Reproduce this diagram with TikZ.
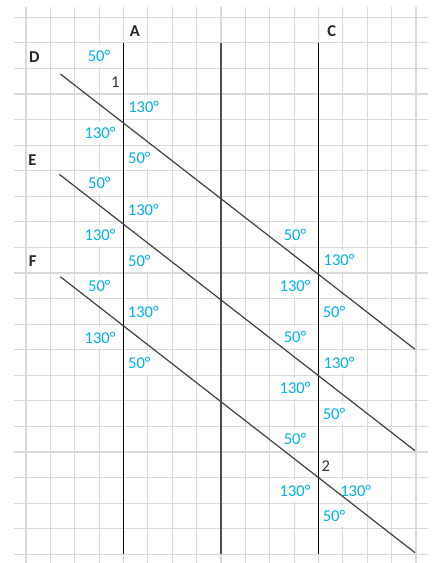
\documentclass[tikz,border=0pt]{standalone}
\usepackage{fontspec}
\setmainfont{Carlito}
\definecolor{gridgray}{RGB}{217,217,217}
\definecolor{angblue}{RGB}{0,176,240}
\begin{document}
\begin{tikzpicture}[
    x=0.75pt, y=-0.75pt,
    font=\fontsize{12.4}{14}\selectfont,
    cell/.style={draw=gridgray, line width=0.9pt},
    deg/.style={text=angblue, fill=white, inner xsep=0.5pt, inner ysep=0pt, minimum height=16pt},
    tag/.style={font=\fontsize{12.4}{14}\selectfont\bfseries, text=black!85},
    num/.style={text=black!80, fill=white, inner sep=0.5pt},
    parallel/.style={draw, line width=1pt, black},
    transversal/.style={draw, line width=0.9pt, black!75}
]
    \useasboundingbox (0,0) rectangle (433,563);

    % squared paper
    \foreach \i in {0,...,16}
        \draw [cell] ({26+24.375*\i},7) -- ({26+24.375*\i},563);
    \foreach \j in {0,...,21}
        \draw [cell] (14,{17.3+25.57*\j}) -- (428,{17.3+25.57*\j});

    % letters
    \node [tag] (lA) at (135,31) {A};
    \node [tag] (lC) at (331.7,31) {C};
    \node [tag] (lD) at (34.3,57.3) {D};
    \node [tag] (lE) at (32.3,160.3) {E};
    \node [tag] (lF) at (32.7,261) {F};
    \node [num] (n1) at (115.3,82.5) {1};
    \node [num] (n2) at (325.7,466) {2};

    % angles at A
    \node [deg] (ad1) at (99,56) {50°};
    \node [deg] (ad2) at (143.7,107.3) {130°};
    \node [deg] (ad3) at (100,132.8) {130°};
    \node [deg] (ad4) at (139.3,158.3) {50°};
    \node [deg] (ae1) at (99.3,183.3) {50°};
    \node [deg] (ae2) at (143.3,209.6) {130°};
    \node [deg] (ae3) at (100,235.2) {130°};
    \node [deg] (ae4) at (139.3,260.8) {50°};
    \node [deg] (af1) at (99.3,286.4) {50°};
    \node [deg] (af2) at (143.3,311.9) {130°};
    \node [deg] (af3) at (100,337.5) {130°};
    \node [deg] (af4) at (139.3,363.1) {50°};

    % angles at C
    \node [deg] (cd1) at (295,234.7) {50°};
    \node [deg] (cd2) at (339,260.3) {130°};
    \node [deg] (cd3) at (295,285.9) {130°};
    \node [deg] (cd4) at (334,311.5) {50°};
    \node [deg] (ce1) at (295,337.1) {50°};
    \node [deg] (ce2) at (339,362.6) {130°};
    \node [deg] (ce3) at (295,388.2) {130°};
    \node [deg] (ce4) at (334,413.8) {50°};
    \node [deg] (cf1) at (295,439.4) {50°};
    \node [deg] (cf3) at (295,490.5) {130°};
    \node [deg] (cf2) at (355.7,490.5) {130°};
    \node [deg] (cf4) at (334,516.1) {50°};

    % line ends
    \coordinate (A1) at (123.3,43);
    \coordinate (A2) at (123.3,554);
    \coordinate (B1) at (221,43);
    \coordinate (B2) at (221,554);
    \coordinate (C1) at (318.3,43);
    \coordinate (C2) at (318.3,554);
    \coordinate (D1) at (60.3,74);
    \coordinate (D2) at (415,349.3);
    \coordinate (E1) at (59.3,174.3);
    \coordinate (E2) at (415,450.7);
    \coordinate (F1) at (60.3,276.7);
    \coordinate (F2) at (415,552.7);

    \draw [parallel] (A1) -- (A2);
    \draw [parallel, black!70] (B1) -- (B2);
    \draw [parallel] (C1) -- (C2);

    \draw [transversal] (D1) -- (D2);
    \draw [transversal] (E1) -- (E2);
    \draw [transversal] (F1) -- (F2);
\end{tikzpicture}
\end{document}
